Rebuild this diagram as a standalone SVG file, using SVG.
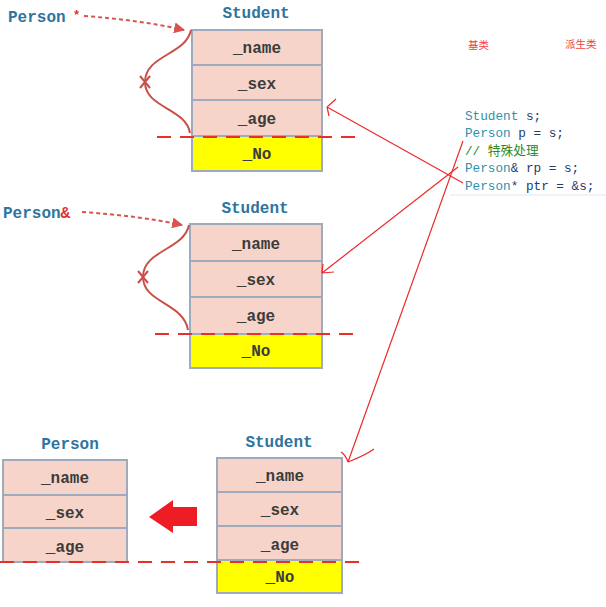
<svg xmlns="http://www.w3.org/2000/svg" width="606" height="607" viewBox="0 0 606 607">
<style>
.cell{fill:#f7d4ca;stroke:#9eabbf;stroke-width:2}
.no{fill:#ffff00;stroke:#9eabbf;stroke-width:2}
.ft{font-family:"Liberation Mono",monospace;font-weight:bold;font-size:16px;fill:#3c3c3c;text-anchor:middle}
.lbl{font-family:"Liberation Mono",monospace;font-weight:bold;font-size:16px;fill:#2e74a0}
.cut{stroke:#e8302a;stroke-width:2;stroke-dasharray:14 9;fill:none}
.brace{stroke:#c9504a;stroke-width:2;fill:none}
.dot{stroke:#d9534f;stroke-width:2;stroke-dasharray:4 3;fill:none}
.pen{stroke:#ee2a2a;stroke-width:1.2;fill:none}
.code{font-family:"Liberation Mono","Noto Sans CJK SC",monospace;font-size:12.7px;fill:#1f3a6e}
.ty{fill:#2b91af}
.cm{fill:#2a8a2a}
.cn{font-family:"Noto Sans CJK SC",sans-serif;font-size:10.5px;fill:#f04040}
</style>
<defs>
<marker id="tri" viewBox="0 0 10 10" refX="9" refY="5" markerWidth="5.5" markerHeight="5.5" orient="auto"><path d="M0,0L10,5L0,10z" fill="#d9534f"/></marker>
</defs>
<rect width="606" height="607" fill="#fff"/>

<g id="block1">
<text class="lbl" x="256" y="18" text-anchor="middle">Student</text>
<rect class="cell" x="192" y="30" width="130" height="35"/>
<rect class="cell" x="192" y="65" width="130" height="35"/>
<rect class="cell" x="192" y="100" width="130" height="36"/>
<rect class="no" x="192" y="136" width="130" height="35"/>
<text class="ft" x="257" y="53">_name</text>
<text class="ft" x="257" y="89">_sex</text>
<text class="ft" x="257" y="124">_age</text>
<text class="ft" x="257" y="159">_No</text>
<line class="cut" x1="157" y1="137" x2="360" y2="137"/>
<text class="lbl" x="8" y="22">Person</text>
<text x="73" y="19" font-family="Liberation Mono,monospace" font-weight="bold" font-size="12" fill="#e03030">*</text>
<path class="dot" d="M84,16 Q140,20 184,30" marker-end="url(#tri)"/>
<path class="brace" d="M191,30 C186,55 145,55 145,82 C145,108 186,108 190,133"/>
<path class="brace" d="M140,76 L150,88 M150,76 L140,88"/>
</g>

<g id="block2">
<text class="lbl" x="255" y="213" text-anchor="middle">Student</text>
<rect class="cell" x="190" y="224" width="132" height="37"/>
<rect class="cell" x="190" y="261" width="132" height="36"/>
<rect class="cell" x="190" y="297" width="132" height="37"/>
<rect class="no" x="190" y="334" width="132" height="34"/>
<text class="ft" x="256" y="249">_name</text>
<text class="ft" x="256" y="285">_sex</text>
<text class="ft" x="256" y="321">_age</text>
<text class="ft" x="256" y="356">_No</text>
<line class="cut" x1="155" y1="334" x2="360" y2="334"/>
<text class="lbl" x="3" y="218">Person<tspan fill="#e03030">&amp;</tspan></text>
<path class="dot" d="M82,212 Q140,216 182,225" marker-end="url(#tri)"/>
<path class="brace" d="M189,225 C184,250 143,250 143,277 C143,303 184,303 188,330"/>
<path class="brace" d="M138,271 L148,283 M148,271 L138,283"/>
</g>

<g id="block3">
<text class="lbl" x="70" y="449" text-anchor="middle">Person</text>
<rect class="cell" x="3" y="460" width="124" height="35"/>
<rect class="cell" x="3" y="495" width="124" height="33"/>
<rect class="cell" x="3" y="528" width="124" height="34"/>
<text class="ft" x="65" y="483">_name</text>
<text class="ft" x="65" y="518">_sex</text>
<text class="ft" x="65" y="552">_age</text>
<text class="lbl" x="279" y="447" text-anchor="middle">Student</text>
<rect class="cell" x="217" y="458" width="125" height="34"/>
<rect class="cell" x="217" y="492" width="125" height="34"/>
<rect class="cell" x="217" y="526" width="125" height="34"/>
<rect class="no" x="217" y="560" width="125" height="33"/>
<text class="ft" x="280" y="481">_name</text>
<text class="ft" x="280" y="515">_sex</text>
<text class="ft" x="280" y="550">_age</text>
<text class="ft" x="280" y="582">_No</text>
<line class="cut" x1="0" y1="562" x2="360" y2="562"/>
<path d="M149,517 L173,500 L173,507 L197,507 L197,526 L173,526 L173,533 Z" fill="#ee1c25"/>
</g>

<g id="code">
<text class="cn" x="468" y="49">基类</text>
<text class="cn" x="565" y="48">派生类</text>
<text class="code" x="465" y="120"><tspan class="ty">Student</tspan> s;</text>
<text class="code" x="465" y="137"><tspan class="ty">Person</tspan> p = s;</text>
<text class="code cm" x="465" y="155">// 特殊处理</text>
<text class="code" x="465" y="172"><tspan class="ty">Person</tspan>&amp; rp = s;</text>
<text class="code" x="465" y="190"><tspan class="ty">Person</tspan>* ptr = &amp;s;</text>
<line x1="450" y1="195" x2="606" y2="195" stroke="#e4e6ee" stroke-width="1"/>
</g>

<g id="connectors">
<path class="pen" d="M463,183 L327,107 M327,107 L336,99 M327,107 L329,116"/>
<path class="pen" d="M458,167 L322,273 M322,273 L323,264 M322,273 L334,272"/>
<path class="pen" d="M463,141 L348,462 M348,462 C346,456 344,454 341,452 M348,462 C358,458 366,455 374,449"/>
</g>
</svg>
